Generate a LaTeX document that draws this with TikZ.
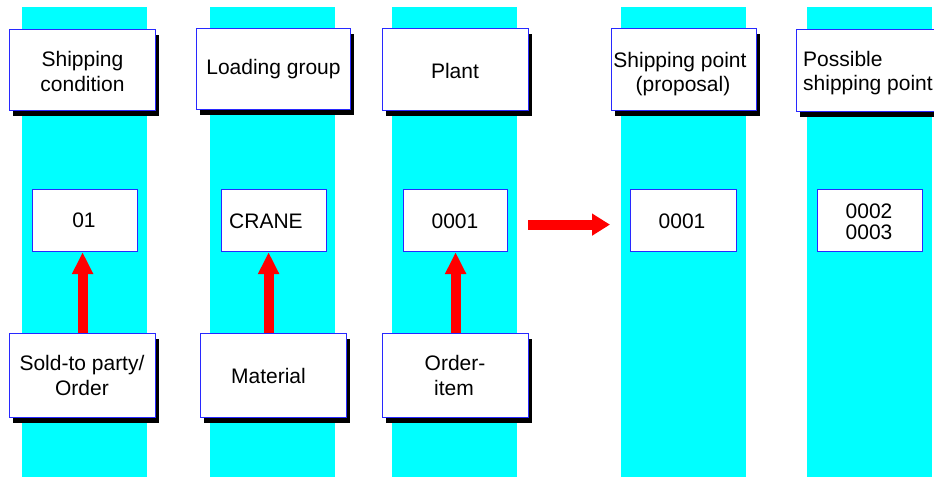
\documentclass[tikz,border=0pt]{standalone}
\usepackage{fontspec}
\setmainfont{Liberation Sans}
\usetikzlibrary{arrows.meta,shadows}
\definecolor{aqua}{RGB}{0,255,255}
\definecolor{bborder}{RGB}{40,40,255}
\definecolor{redarrow}{RGB}{255,0,0}
\begin{document}
\begin{tikzpicture}[x=1pt,y=-1pt,
  stripe/.style={fill=aqua},
  box/.style={draw=bborder, line width=1.2pt, fill=white, inner sep=0pt, anchor=north west},
  sbox/.style={box, general shadow={fill=black, shadow xshift=3.5pt, shadow yshift=-5pt}},
  hbox/.style={sbox, minimum height=81pt},
  mbox/.style={box, minimum height=62pt},
  txt/.style={font=\fontsize{21}{25}\selectfont, inner sep=0pt, anchor=base},
  ltxt/.style={txt, anchor=base west},
  uparrow/.style={draw=redarrow, line width=10pt, -{Triangle[width=20pt,length=22pt]}},
  rarrow/.style={draw=redarrow, line width=10pt, -{Triangle[width=21pt,length=18pt]}}
]
\useasboundingbox (0,0) rectangle (934,477);
\clip (0,0) rectangle (934,477);
% stripes
\fill[stripe] (22,7) rectangle (147,477);
\fill[stripe] (210,7) rectangle (335,477);
\fill[stripe] (392,7) rectangle (517,477);
\fill[stripe] (621,7) rectangle (746,477);
\fill[stripe] (807,7) rectangle (932,477);
% header boxes
\node[hbox, minimum width=146pt] (H1) at (9,29) {};
\node[hbox, minimum width=154pt] (H2) at (196,28) {};
\node[hbox, minimum width=146pt, minimum height=82pt] (H3) at (382,28) {};
\node[hbox, minimum width=145pt, minimum height=82pt] (H4) at (611,28) {};
\node[hbox, minimum width=146pt, minimum height=82pt] (H5) at (796,29) {};
% middle boxes
\node[mbox, minimum width=105pt] (M1) at (32,189) {};
\node[mbox, minimum width=105pt] (M2) at (221,189) {};
\node[mbox, minimum width=104pt] (M3) at (403,189) {};
\node[mbox, minimum width=106pt] (M4) at (630,189) {};
\node[mbox, minimum width=105pt] (M5) at (817,189) {};
% bottom boxes
\node[sbox, minimum width=146pt, minimum height=84pt] (B1) at (9,333) {};
\node[sbox, minimum width=146pt, minimum height=84pt] (B2) at (200,333) {};
\node[sbox, minimum width=146pt, minimum height=84pt] (B3) at (382,333) {};
% arrows
\draw[uparrow] (B1.north) -- (B1.north |- M1.south);
\draw[uparrow] ([xshift=-5pt]B2.north) -- ([xshift=-5pt]B2.north |- M2.south);
\draw[uparrow] (B3.north) -- (B3.north |- M3.south);
\draw[rarrow] ([xshift=20pt,yshift=-4pt]M3.east) -- ([xshift=-20pt,yshift=-4pt]M4.west);
% header texts
\node[txt] (h1a) at (82.5,66) {Shipping};
\node[txt] (h1b) at (82.5,91) {condition};
\node[txt] (h2a) at (273.5,74) {Loading group};
\node[txt] (h3a) at (455,78) {Plant};
\node[txt] (h4a) at (680,67) {Shipping point};
\node[txt] (h4b) at (683,91) {(proposal)};
\node[ltxt] (h5a) at (803,66) {Possible};
\node[ltxt] (h5b) at (803,90) {shipping point};
% middle texts
\node[txt] (m1) at (84,227) {01};
\node[txt] (m2) at (266,228) {CRANE};
\node[txt] (m3) at (455,228) {0001};
\node[txt] (m4) at (682,228) {0001};
\node[txt] (m5a) at (869,218) {0002};
\node[txt] (m5b) at (869,239) {0003};
% bottom texts
\node[txt] (b1a) at (82,370) {Sold-to party/};
\node[txt] (b1b) at (82,395) {Order};
\node[txt] (b2a) at (268.5,383) {Material};
\node[txt] (b3a) at (455,370) {Order-};
\node[txt] (b3b) at (454,395) {item};
\end{tikzpicture}
\end{document}
